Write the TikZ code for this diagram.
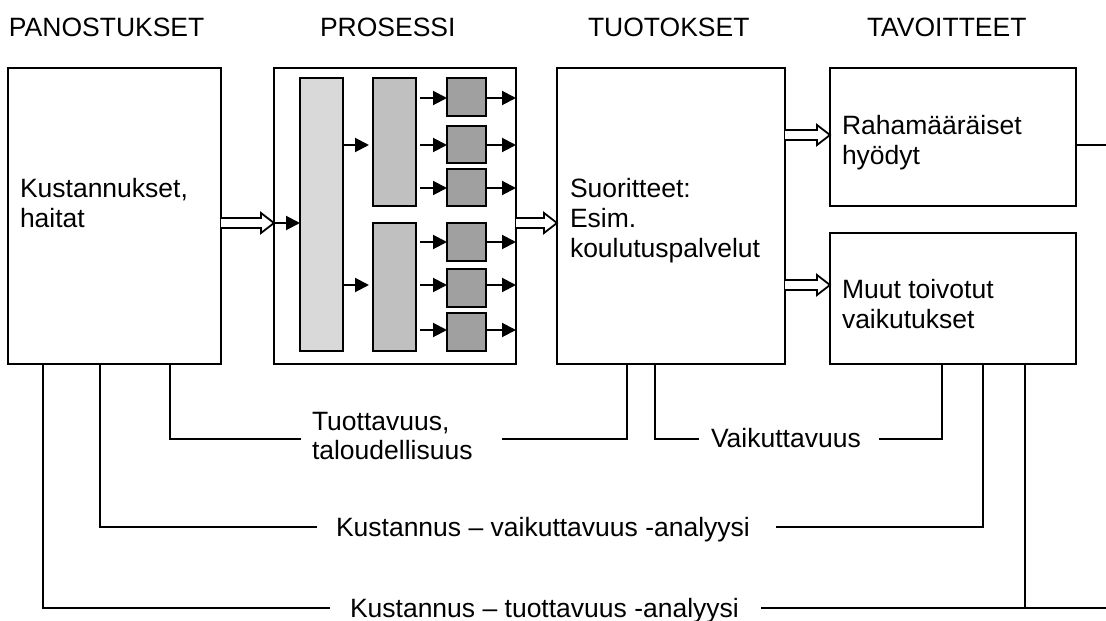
\documentclass[tikz,border=0pt]{standalone}
\usepackage{fontspec}
\setmainfont{Liberation Sans}
\usetikzlibrary{arrows.meta,calc}
\definecolor{gA}{RGB}{217,217,217}
\definecolor{gB}{RGB}{192,192,192}
\definecolor{gC}{RGB}{160,160,160}
\newcommand\dblarrow[2]{\draw[dbl,shift={(#1)}] (0,-5) -- ({#2-13},-5) -- ({#2-13},-10) -- (#2,0) -- ({#2-13},10) -- ({#2-13},5) -- (0,5);}
\begin{document}
\begin{tikzpicture}[x=1pt,y=-1pt,line width=1.8pt,
  every node/.style={font=\fontsize{26.5}{30}\selectfont,inner sep=0pt,outer sep=0pt},
  bx/.style={draw,anchor=north west,fill=white},
  txt/.style={anchor=base west},
  tipline/.style={-{Triangle[length=14pt,width=14pt]},line width=2pt},
  dbl/.style={draw,fill=white,line width=1.8pt,line join=miter}]
\useasboundingbox (0,0) rectangle (1106,621);

% main boxes
\node[bx,minimum width=213pt,minimum height=296pt] (panos) at (8,68) {};
\node[bx,minimum width=242pt,minimum height=296pt] (proc) at (274,68) {};
\node[bx,minimum width=228pt,minimum height=296pt] (tuot) at (557,68) {};
\node[bx,minimum width=246pt,minimum height=138pt] (raha) at (830,68) {};
\node[bx,minimum width=246pt,minimum height=131pt] (muut) at (830,233) {};

% process internals
\node[bx,fill=gA,minimum width=43pt,minimum height=273pt] (big) at (300,78) {};
\node[bx,fill=gB,minimum width=43pt,minimum height=128pt] (midA) at (373,78) {};
\node[bx,fill=gB,minimum width=43pt,minimum height=128pt] (midB) at (373,223) {};
\node[bx,fill=gC,minimum width=39pt,minimum height=38pt] (s1) at (447,78) {};
\node[bx,fill=gC,minimum width=39pt,minimum height=37pt] (s2) at (447,126) {};
\node[bx,fill=gC,minimum width=39pt,minimum height=37pt] (s3) at (447,169) {};
\node[bx,fill=gC,minimum width=39pt,minimum height=38pt] (s4) at (447,223) {};
\node[bx,fill=gC,minimum width=39pt,minimum height=38pt] (s5) at (447,269) {};
\node[bx,fill=gC,minimum width=39pt,minimum height=38pt] (s6) at (447,313) {};

\coordinate (yin) at (0,223);
\draw[tipline] (proc.west |- yin) -- (big.west |- yin);
\coordinate (midAin) at (369,145);
\coordinate (midBin) at (369,285);
\draw[tipline] (big.east |- midAin) -- (midAin);
\draw[tipline] (big.east |- midBin) -- (midBin);
\foreach \n/\yy in {1/98,2/145,3/188,4/242,5/285,6/330} {
  \coordinate (r\n) at (420,\yy);
  \draw[tipline] (r\n) -- (s\n.west |- r\n);
  \draw[tipline] (s\n.east |- r\n) -- (proc.east |- r\n);
}

% double arrows
\coordinate (yr) at (0,135);
\coordinate (ym) at (0,285);
\dblarrow{panos.east |- yin}{53}
\dblarrow{proc.east |- yin}{41}
\dblarrow{tuot.east |- yr}{45}
\dblarrow{tuot.east |- ym}{45}

% headings
\node[txt] (h1) at (9,36) {PANOSTUKSET};
\node[txt] (h2) at (320,36) {PROSESSI};
\node[txt] (h3) at (588,36) {TUOTOKSET};
\node[txt] (h4) at (867,36) {TAVOITTEET};

% box texts
\node[txt] (k1) at (20,197) {Kustannukset,};
\node[txt] (k2) at (20,227) {haitat};
\node[txt] (su1) at (570,197) {Suoritteet:};
\node[txt] (su2) at (570,227) {Esim.};
\node[txt] (su3) at (570,257) {koulutuspalvelut};
\node[txt] (ra1) at (842,134) {Rahamääräiset};
\node[txt] (ra2) at (842,164) {hyödyt};
\node[txt] (mu1) at (842,298) {Muut toivotut};
\node[txt] (mu2) at (842,328) {vaikutukset};

% bottom labels
\node[txt] (tv1) at (312,430) {Tuottavuus,};
\node[txt] (tv2) at (312,459) {taloudellisuus};
\node[txt] (vk) at (711,447) {Vaikuttavuus};
\node[txt] (kv) at (336,536) {Kustannus – vaikuttavuus -analyysi};
\node[txt] (kt) at (350,617) {Kustannus – tuottavuus -analyysi};

% bottom connectors
\coordinate (c1a) at (301,439); \coordinate (c1b) at (502,439);
\coordinate (c2a) at (699,439); \coordinate (c2b) at (879,439);
\coordinate (c3a) at (317,527); \coordinate (c3b) at (776,527);
\coordinate (c4a) at (330,608); \coordinate (c4b) at (761,608);
\coordinate (c4e) at (1106,608);
\coordinate (rr) at (1106,145);

\draw ([xshift=162pt]panos.south west) |- (c1a);
\draw (c1b) -| ([xshift=70pt]tuot.south west);
\draw ([xshift=98pt]tuot.south west) |- (c2a);
\draw (c2b) -| ([xshift=112pt]muut.south west);
\draw ([xshift=92pt]panos.south west) |- (c3a);
\draw (c3b) -| ([xshift=153pt]muut.south west);
\draw ([xshift=35pt]panos.south west) |- (c4a);
\draw (c4b) -- (c4e);
\draw ([xshift=195pt]muut.south west) -- ([xshift=195pt]muut.south west |- c4b);
\draw (raha.east |- rr) -- (rr);
\end{tikzpicture}
\end{document}
